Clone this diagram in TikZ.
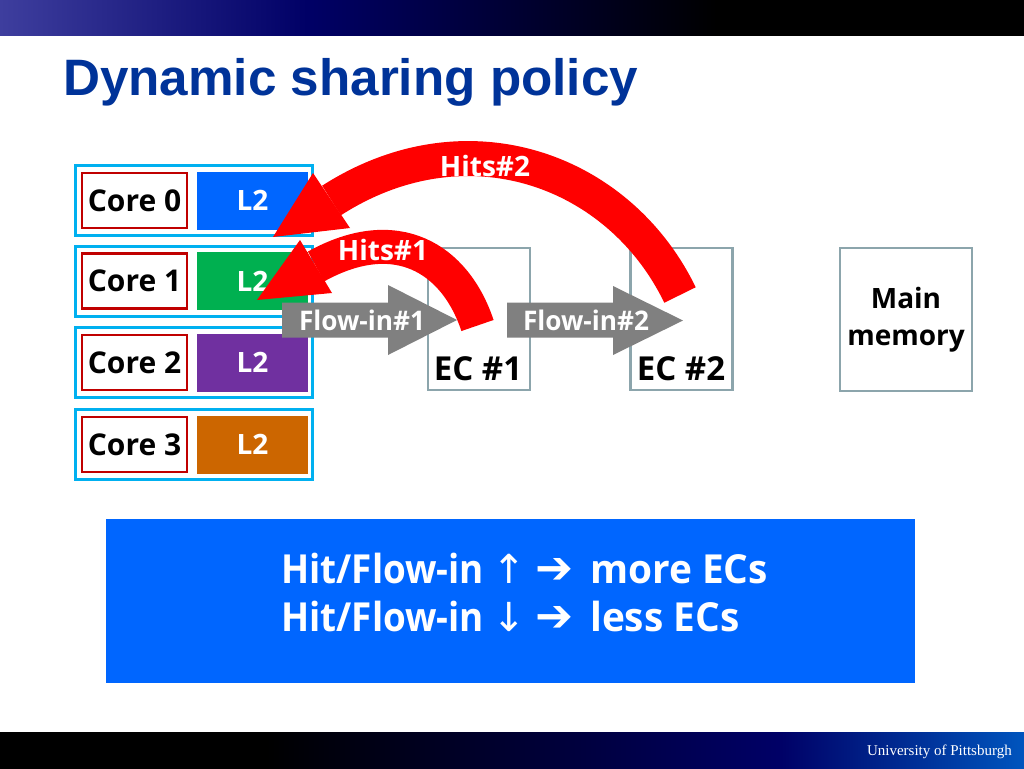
\documentclass[tikz,border=0pt]{standalone}
\usepackage{fontspec}
\setmainfont{Open Sans}
\newfontfamily\titlefont{Liberation Sans}
\newfontfamily\footfont{Liberation Serif}
\newfontfamily\symfont{DejaVu Sans}
\def\pxu{0.75pt}
\definecolor{cyanb}{RGB}{0,176,240}
\definecolor{coreRed}{RGB}{192,0,0}
\definecolor{lzero}{RGB}{0,102,255}
\definecolor{lone}{RGB}{0,176,80}
\definecolor{ltwo}{RGB}{112,48,160}
\definecolor{lthree}{RGB}{204,102,0}
\definecolor{ecgray}{RGB}{140,165,172}
\definecolor{flowgray}{RGB}{128,128,128}
\definecolor{boxblue}{RGB}{0,102,255}
\definecolor{titleblue}{RGB}{0,51,153}
\definecolor{navy}{RGB}{0,0,102}
\definecolor{barleft}{RGB}{62,62,158}
\definecolor{barright}{RGB}{0,85,190}
\definecolor{hitred}{RGB}{255,0,0}
\pgfdeclarehorizontalshading{topbar}{100bp}{color(0bp)=(barleft); color(25bp)=(barleft); color(40bp)=(navy); color(60bp)=(black); color(100bp)=(black)}
\pgfdeclarehorizontalshading{botbar}{100bp}{color(0bp)=(black); color(38bp)=(black); color(63bp)=(navy); color(75bp)=(barright); color(100bp)=(barright)}
\newcommand\condensed[2][0.92]{\scalebox{#1}[1]{#2}}
\tikzset{
  groupbox/.style={draw=cyanb, line width=3*\pxu, minimum width=237*\pxu, minimum height=70*\pxu, inner sep=0, outer sep=0},
  corebox/.style={draw=coreRed, fill=white, line width=2.2*\pxu, minimum width=105*\pxu, minimum height=55*\pxu, inner sep=0, outer sep=0, font=\bfseries\fontsize{22.5pt}{24pt}\selectfont},
  l2box/.style={fill=#1, minimum width=111*\pxu, minimum height=58*\pxu, inner sep=0, outer sep=0, text=white, font=\bfseries\fontsize{21pt}{22pt}\selectfont},
  ecbox/.style={draw=ecgray, line width=2.2*\pxu, fill=white, minimum width=102*\pxu, minimum height=142*\pxu, inner sep=0, outer sep=0},
  eclabel/.style={inner sep=0, font=\bfseries\fontsize{24.75pt}{26pt}\selectfont},
  flowtxt/.style={inner sep=0, text=white, font=\bfseries\fontsize{20.25pt}{22pt}\selectfont},
  hittxt/.style={inner sep=0, text=white, font=\bfseries\fontsize{21pt}{22pt}\selectfont},
  bandline/.style={draw=hitred, line cap=butt},
  bodytxt/.style={inner sep=0, text=white, font=\bfseries\fontsize{30pt}{35pt}\selectfont, anchor=base west}
}
\newcommand\upar{{\mdseries\symfont ↑}}
\newcommand\downar{{\mdseries\symfont ↓}}
\newcommand\fatar{{\symfont\fontsize{34pt}{36pt}\selectfont ➔}}
\begin{document}
\begin{tikzpicture}[x=0.75pt, y=-0.75pt]
\useasboundingbox (0,0) rectangle (1024,768);
\fill[white] (0,0) rectangle (1024,768);
% top and bottom bars
\shade[shading=topbar] (0,0) rectangle (1024,35);
\shade[shading=botbar] (0,732) rectangle (1024,768);
\node[anchor=base east, inner sep=0, text=white, font=\footfont\fontsize{11.25pt}{12pt}\selectfont] (uni) at (1012,755) {University of Pittsburgh};
% title
\node[anchor=base west, inner sep=0, text=titleblue, font=\titlefont\bfseries\fontsize{38.4pt}{40pt}\selectfont] (title) at (63,95) {Dynamic sharing policy};
% cores
\foreach \i/\col/\yy in {0/lzero/200.5, 1/lone/281, 2/ltwo/362.5, 3/lthree/444.5}{
  \node[groupbox] (g\i) at (194,\yy) {};
  \node[corebox] (c\i) at (134.5,\yy) {Core \i};
  \node[l2box=\col] (l\i) at (252.5,\yy) {L2};
}
% ECs and memory
\node[ecbox] (ec1) at (479,319) {};
\node[ecbox] (ec2) at (681.5,319) {};
\node[ecbox, minimum width=132*\pxu, minimum height=143*\pxu, align=center, font=\bfseries\fontsize{21pt}{27.75pt}\selectfont] (mem) at (906,319.5) {Main\\memory};
\node[eclabel] (ec1l) at (478,369) {EC \#1};
\node[eclabel] (ec2l) at (681,369) {EC \#2};
% flow-in arrows
\fill[flowgray] (282,302.5) -- (388,302.5) -- (388,285) -- (457,320) -- (388,355) -- (388,337.5) -- (282,337.5) -- cycle;
\fill[flowgray] (507,302.5) -- (613,302.5) -- (613,286) -- (683,320.5) -- (613,355) -- (613,337.5) -- (507,337.5) -- cycle;
\node[flowtxt] (f1) at (362,320) {\condensed[0.97]{Flow-in\#1}};
\node[flowtxt] (f2) at (586,320) {\condensed[0.97]{Flow-in\#2}};
% Hits#2
\coordinate (h2s) at (680,295);
\coordinate (h2a) at (619,169);
\coordinate (h2b) at (466,114);
\coordinate (h2e) at (331.5,200.5);
\coordinate (h2t) at (273,237);
\coordinate (h2l) at (313,173);
\coordinate (h2r) at (350,228);
\draw[bandline, line width=35*\pxu] (h2s) .. controls (h2a) and (h2b) .. (h2e);
\fill[hitred] (h2t) -- (h2l) -- (h2r) -- cycle;
% Hits#1
\coordinate (h1s) at (477.5,325.5);
\coordinate (h1a) at (455,258);
\coordinate (h1b) at (396,222);
\coordinate (h1e) at (316,266.5);
\coordinate (h1t) at (257,300);
\coordinate (h1l) at (300,240);
\coordinate (h1r) at (332,293);
\draw[bandline, line width=34*\pxu] (h1s) .. controls (h1a) and (h1b) .. (h1e);
\fill[hitred] (h1t) -- (h1l) -- (h1r) -- cycle;
\node[hittxt] (hit2) at (485,166) {Hits\#2};
\node[hittxt] (hit1) at (383,250) {Hits\#1};
% bottom box
\node[fill=boxblue, minimum width=809*\pxu, minimum height=164*\pxu, inner sep=0, outer sep=0] (sum) at (510.5,601) {};
\node[bodytxt] (s1) at (281,583) {\condensed{Hit/Flow-in}\hspace{6.5pt}\upar\hspace{7pt}\fatar\hspace{12.5pt}\condensed[0.97]{more ECs}};
\node[bodytxt] (s2) at (281,631) {\condensed{Hit/Flow-in}\hspace{6.5pt}\downar\hspace{7pt}\fatar\hspace{12.5pt}\condensed[0.97]{less ECs}};
\end{tikzpicture}
\end{document}
